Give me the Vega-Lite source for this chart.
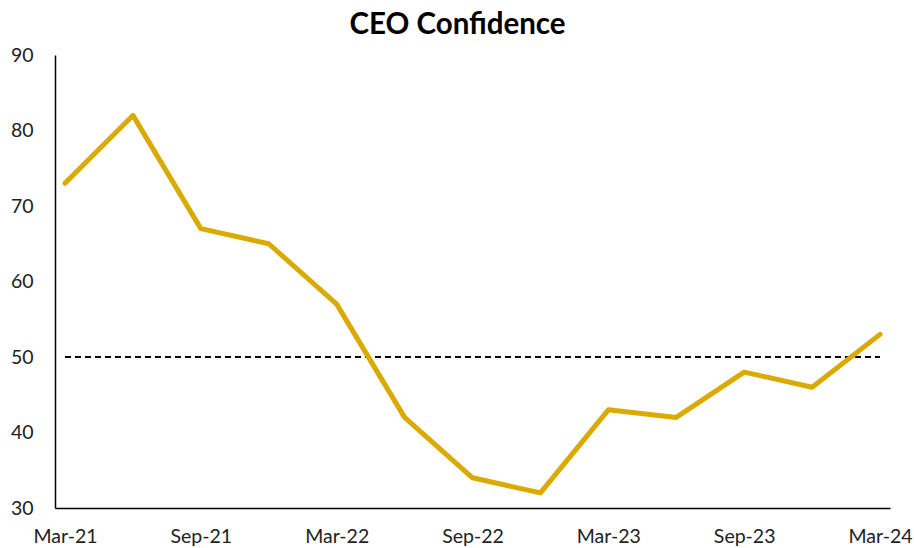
{
  "$schema": "https://vega.github.io/schema/vega-lite/v6.json",
  "autosize": {"type": "none"},
  "width": 835,
  "height": 453,
  "padding": {"left": 55, "top": 55, "right": 24, "bottom": 40},
  "background": "white",
  "title": {
    "text": "CEO Confidence",
    "font": "Lato",
    "fontSize": 29.5,
    "fontWeight": "bold",
    "color": "#000000",
    "anchor": "middle",
    "dx": -15,
    "offset": 5
  },
  "config": {
    "view": {"stroke": null},
    "axis": {
      "labelFont": "Lato",
      "labelFontSize": 19.5,
      "labelColor": "#222222",
      "domainColor": "#000000",
      "domainWidth": 1.5,
      "ticks": false,
      "tickSize": 0,
      "grid": false,
      "title": null
    }
  },
  "datasets": {
    "series": [
      {"quarter": "Mar-21", "value": 73},
      {"quarter": "Jun-21", "value": 82},
      {"quarter": "Sep-21", "value": 67},
      {"quarter": "Dec-21", "value": 65},
      {"quarter": "Mar-22", "value": 57},
      {"quarter": "Jun-22", "value": 42},
      {"quarter": "Sep-22", "value": 34},
      {"quarter": "Dec-22", "value": 32},
      {"quarter": "Mar-23", "value": 43},
      {"quarter": "Jun-23", "value": 42},
      {"quarter": "Sep-23", "value": 48},
      {"quarter": "Dec-23", "value": 46},
      {"quarter": "Mar-24", "value": 53}
    ],
    "threshold": [
      {"start": "Mar-21", "end": "Mar-24", "level": 50}
    ]
  },
  "encoding": {
    "x": {
      "field": "quarter",
      "type": "ordinal",
      "sort": null,
      "scale": {"type": "point", "padding": 0.147, "domain": ["Mar-21","Jun-21","Sep-21","Dec-21","Mar-22","Jun-22","Sep-22","Dec-22","Mar-23","Jun-23","Sep-23","Dec-23","Mar-24"]},
      "axis": {
        "values": ["Mar-21","Sep-21","Mar-22","Sep-22","Mar-23","Sep-23","Mar-24"],
        "labelAngle": 0,
        "labelAlign": "center",
        "labelBaseline": "top",
        "labelFlush": false,
        "labelOverlap": false,
        "labelPadding": 19
      }
    },
    "y": {
      "field": "value",
      "type": "quantitative",
      "scale": {"domain": [30, 90], "nice": false, "zero": false},
      "axis": {"values": [30, 40, 50, 60, 70, 80, 90], "labelPadding": 22}
    }
  },
  "layer": [
    {
      "data": {"name": "threshold"},
      "mark": {"type": "rule", "color": "#000000", "strokeWidth": 2, "strokeDash": [6, 4]},
      "encoding": {
        "x": {"field": "start", "type": "ordinal", "sort": null},
        "x2": {"field": "end"},
        "y": {"field": "level", "type": "quantitative"}
      }
    },
    {
      "data": {"name": "series"},
      "mark": {"type": "line", "color": "#DAAA00", "strokeWidth": 5, "strokeCap": "round", "strokeJoin": "round"}
    }
  ]
}
